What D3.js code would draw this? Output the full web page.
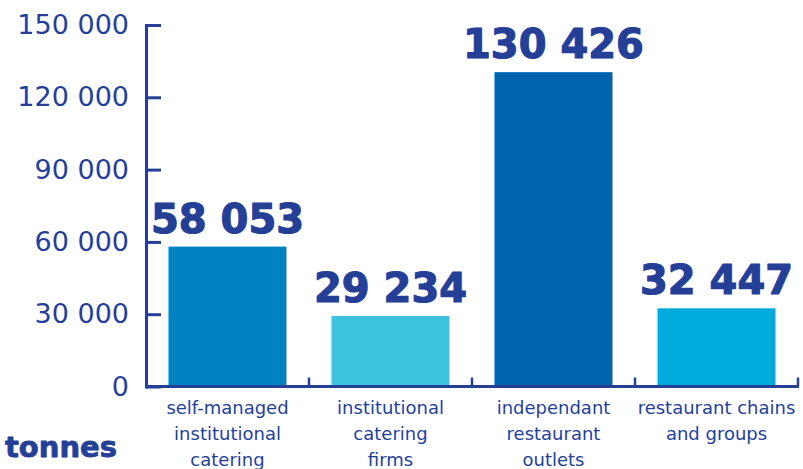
<!DOCTYPE html>
<html>
<head>
<meta charset="utf-8">
<script src="https://cdn.jsdelivr.net/npm/d3@7"></script>
<style>
  html, body { margin: 0; padding: 0; background: #fff; }
  svg { display: block; }
</style>
</head>
<body>
<svg id="chart" width="803" height="469"></svg>
<script>
// Food waste by commercial catering segment, in tonnes
const categories = [
  ["self-managed", "institutional", "catering"],
  ["institutional", "catering", "firms"],
  ["independant", "restaurant", "outlets"],
  ["restaurant chains", "and groups"]
];
const values = [58053, 29234, 130426, 32447];
const barColors = ["#0082c3", "#3cc3de", "#0064af", "#00aadc"];
const yTicks = [0, 30000, 60000, 90000, 120000, 150000];
const unitLabel = "tonnes";

const ink = "#263f96";
const svg = d3.select("#chart");

const fmt = d3.formatLocale({ decimal: ".", thousands: " ", grouping: [3], currency: ["", ""] }).format(",d");

const x0 = 146, x1 = 798, yBase = 386.5, yTop = 25;
const x = d3.scaleBand()
  .domain(d3.range(values.length))
  .range([x0, x1])
  .paddingInner(45 / 163)
  .paddingOuter(45 / 163 / 2);
const y = d3.scaleLinear().domain([0, 150000]).range([yBase, yTop]);

// bars
svg.append("g").selectAll("rect")
  .data(values)
  .join("rect")
  .attr("x", (d, i) => x(i))
  .attr("width", x.bandwidth())
  .attr("y", d => y(d))
  .attr("height", d => y(0) - y(d))
  .attr("fill", (d, i) => barColors[i]);

// value labels, extra heavy
svg.append("g").selectAll("text")
  .data(values)
  .join("text")
  .attr("x", (d, i) => x(i) + x.bandwidth() / 2)
  .attr("y", d => y(d) - 14)
  .attr("text-anchor", "middle")
  .attr("font-family", "DejaVu Sans")
  .attr("font-weight", "bold")
  .attr("font-size", 40)
  .attr("fill", ink)
  .attr("stroke", ink)
  .attr("stroke-width", 1.2)
  .attr("stroke-linejoin", "round")
  .text(d => fmt(d));

// y axis: ticks point inward, labels to the left
const yAxis = d3.axisLeft(y)
  .tickValues(yTicks)
  .tickSizeInner(-15)
  .tickSizeOuter(0)
  .tickPadding(17)
  .tickFormat(fmt);
const gy = svg.append("g").attr("transform", `translate(${x0},0)`).call(yAxis);
gy.select(".domain").attr("stroke", ink).attr("stroke-width", 3).attr("stroke-linecap", "square");
gy.selectAll(".tick line").attr("stroke", ink).attr("stroke-width", 3);
gy.selectAll(".tick text")
  .attr("font-family", "DejaVu Sans")
  .attr("font-size", 27)
  .attr("fill", ink);

// x axis baseline with small upward ticks between categories
const gx = svg.append("g");
gx.append("line")
  .attr("x1", x0).attr("x2", x1 + 1)
  .attr("y1", y(0)).attr("y2", y(0))
  .attr("stroke", ink).attr("stroke-width", 3);
const bounds = d3.range(1, values.length + 1).map(i => x0 + x.step() * i);
gx.selectAll("line.sep")
  .data(bounds)
  .join("line")
  .attr("class", "sep")
  .attr("x1", d => d).attr("x2", d => d)
  .attr("y1", y(0)).attr("y2", y(0) - 9)
  .attr("stroke", ink).attr("stroke-width", 2.5);

// category labels
const cat = svg.append("g").selectAll("text")
  .data(categories)
  .join("text")
  .attr("text-anchor", "middle")
  .attr("font-family", "DejaVu Sans")
  .attr("font-size", 18)
  .attr("fill", ink)
  .attr("transform", (d, i) => `translate(${x(i) + x.bandwidth() / 2},${414})`);
cat.selectAll("tspan")
  .data(d => d)
  .join("tspan")
  .attr("x", 0)
  .attr("dy", (d, i) => i === 0 ? 0 : 26)
  .text(d => d);

// unit label
svg.append("text")
  .attr("x", 5)
  .attr("y", 457)
  .attr("font-family", "DejaVu Sans")
  .attr("font-weight", "bold")
  .attr("font-size", 29)
  .attr("fill", ink)
  .attr("stroke", ink)
  .attr("stroke-width", 0.8)
  .attr("stroke-linejoin", "round")
  .text(unitLabel);
</script>
</body>
</html>
